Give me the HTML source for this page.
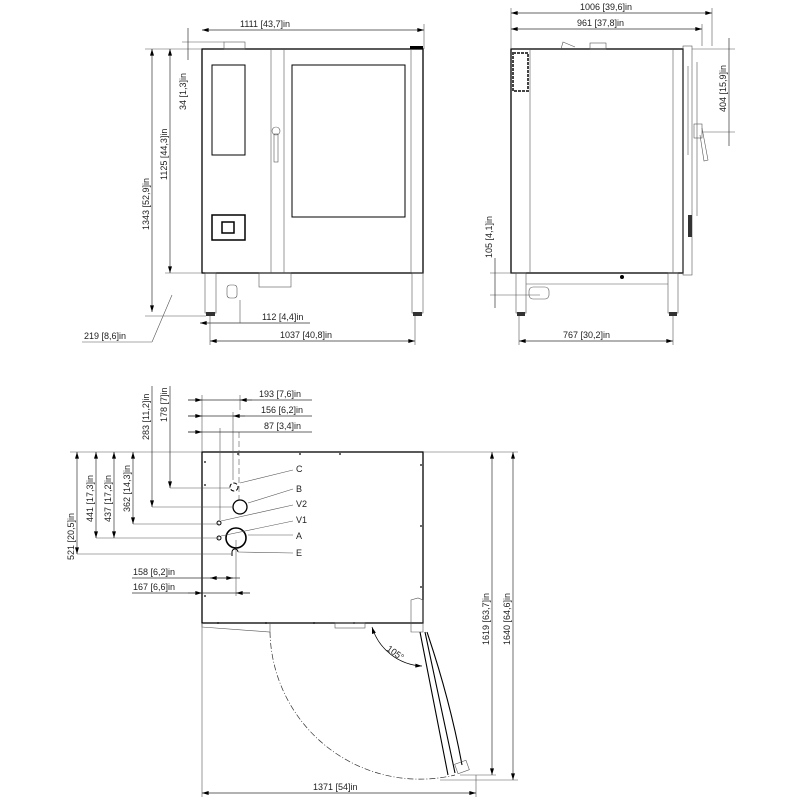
<!DOCTYPE html>
<html><head><meta charset="utf-8"><style>
html,body{margin:0;padding:0;background:#fff}
svg{display:block}
text{font-family:"Liberation Sans",sans-serif;font-size:9px;fill:#222}
.l{stroke:#000;fill:none;stroke-width:1.3}
.t{stroke:#555;fill:none;stroke-width:0.6}
.d{stroke:#333;fill:none;stroke-width:0.7}
</style></head><body>
<svg width="800" height="800" viewBox="0 0 800 800" xmlns="http://www.w3.org/2000/svg">
<defs>
<marker id="a" viewBox="0 0 10 6" refX="10" refY="3" markerWidth="10" markerHeight="4" orient="auto-start-reverse" markerUnits="userSpaceOnUse"><path d="M0,0L10,3L0,6z" fill="#000"/></marker>
</defs>

<!-- FRONT VIEW -->
<rect class="l" x="202" y="49" width="221" height="224"/>
<line class="t" x1="271" y1="49" x2="271" y2="273"/>
<line class="t" x1="284" y1="49" x2="284" y2="273"/>
<line class="t" x1="411" y1="49" x2="411" y2="273"/>
<rect class="l" x="212" y="65" width="33" height="90" style="stroke-width:1"/>
<rect class="l" x="292" y="65" width="113" height="152" style="stroke-width:1"/>
<rect class="l" x="212" y="215" width="33" height="25" style="stroke-width:1.5"/>
<rect x="222" y="222" width="12" height="11" fill="none" stroke="#000" stroke-width="1.5"/>
<circle cx="276" cy="131" r="4" class="t"/>
<rect x="274" y="134" width="4" height="28" class="t"/>
<rect x="224" y="42" width="21" height="7" class="t"/>
<rect x="410" y="46" width="13" height="3" fill="#000"/>
<rect class="t" x="205" y="273" width="11" height="40"/>
<rect class="t" x="412" y="273" width="11" height="40"/>
<rect x="206" y="312" width="9" height="4" fill="#333"/>
<rect x="413" y="312" width="9" height="4" fill="#333"/>
<rect class="t" x="259" y="273" width="32" height="14"/>
<rect class="t" x="227" y="285" width="10" height="13" rx="3"/>
<!-- front dims -->
<line class="d" x1="202" y1="30" x2="424" y2="30" marker-start="url(#a)" marker-end="url(#a)"/>
<text x="240" y="27">1111  [43,7]in</text>
<line class="t" x1="424" y1="24" x2="424" y2="49"/>
<line class="t" x1="145" y1="49" x2="202" y2="49"/>
<line class="t" x1="182" y1="42" x2="224" y2="42"/>
<line class="d" x1="152" y1="49" x2="152" y2="312" marker-start="url(#a)" marker-end="url(#a)"/>
<text transform="translate(149,230) rotate(-90)">1343  [52,9]in</text>
<line class="d" x1="170" y1="49" x2="170" y2="273" marker-start="url(#a)" marker-end="url(#a)"/>
<text transform="translate(167,180) rotate(-90)">1125  [44,3]in</text>
<line class="d" x1="188" y1="28" x2="188" y2="60"/>
<text transform="translate(186,110) rotate(-90)">34  [1,3]in</text>
<line class="t" x1="165" y1="273" x2="202" y2="273"/>
<line class="t" x1="145" y1="316" x2="206" y2="316"/>
<line class="d" x1="200" y1="323" x2="240" y2="323" marker-start="url(#a)"/>
<line class="t" x1="240" y1="300" x2="240" y2="323"/>
<line class="d" x1="240" y1="323" x2="310" y2="323"/>
<text x="262" y="320">112  [4,4]in</text>
<line class="d" x1="210" y1="341" x2="415" y2="341" marker-start="url(#a)" marker-end="url(#a)"/>
<line class="t" x1="210" y1="316" x2="210" y2="345"/>
<line class="t" x1="415" y1="316" x2="415" y2="345"/>
<text x="280" y="338">1037  [40,8]in</text>
<line class="t" x1="82" y1="342" x2="152" y2="342"/>
<line class="t" x1="152" y1="342" x2="172" y2="295"/>
<text x="84" y="339">219  [8,6]in</text>

<!-- SIDE VIEW -->
<rect class="l" x="511" y="49" width="172" height="224"/>
<line class="t" x1="530" y1="49" x2="530" y2="273"/>
<line class="t" x1="673" y1="49" x2="673" y2="273"/>
<rect class="t" x="683" y="46" width="9" height="229"/>
<line class="t" x1="697" y1="62" x2="697" y2="216"/>
<line class="t" x1="688" y1="66" x2="688" y2="155"/>
<rect x="513" y="53" width="15" height="38" fill="none" stroke="#444" stroke-width="2" stroke-dasharray="3,1"/>
<rect class="t" x="590" y="43" width="16" height="6"/>
<path class="t" d="M561 49 L563 42 L575 47"/>
<rect class="t" x="694" y="124" width="8" height="14"/>
<path class="t" d="M702 128 L708 160 L704 161 L700 135"/>
<rect x="688" y="215" width="4" height="22" fill="#333"/>
<rect class="t" x="516" y="273" width="10" height="40"/>
<rect class="t" x="668" y="273" width="10" height="40"/>
<rect x="517" y="312" width="8" height="4" fill="#333"/>
<rect x="669" y="312" width="8" height="4" fill="#333"/>
<line class="t" x1="526" y1="284" x2="668" y2="284"/>
<rect class="t" x="529" y="287" width="20" height="12" rx="4"/>
<circle cx="622" cy="277" r="2" fill="#000"/>
<line class="d" x1="511" y1="13" x2="712" y2="13" marker-start="url(#a)" marker-end="url(#a)"/>
<text x="580" y="10">1006  [39,6]in</text>
<line class="d" x1="511" y1="29" x2="702" y2="29" marker-start="url(#a)" marker-end="url(#a)"/>
<text x="577" y="26">961  [37,8]in</text>
<line class="t" x1="511" y1="8" x2="511" y2="49"/>
<line class="t" x1="712" y1="8" x2="712" y2="46"/>
<line class="t" x1="702" y1="24" x2="702" y2="46"/>
<line class="t" x1="692" y1="49" x2="735" y2="49"/>
<line class="t" x1="702" y1="132" x2="735" y2="132"/>
<line class="d" x1="729" y1="38" x2="729" y2="146"/>
<text transform="translate(726,112) rotate(-90)">404  [15,9]in</text>
<line class="t" x1="490" y1="273" x2="516" y2="273"/>
<line class="t" x1="490" y1="295" x2="540" y2="295"/>
<line class="d" x1="495" y1="258" x2="495" y2="308"/>
<text transform="translate(492,258) rotate(-90)">105  [4,1]in</text>
<line class="d" x1="519" y1="341" x2="673" y2="341" marker-start="url(#a)" marker-end="url(#a)"/>
<line class="t" x1="519" y1="316" x2="519" y2="345"/>
<line class="t" x1="673" y1="316" x2="673" y2="345"/>
<text x="563" y="338">767  [30,2]in</text>

<!-- TOP VIEW -->
<rect class="l" x="202" y="452" width="221" height="171"/>
<g fill="#000">
<circle cx="238" cy="454" r="0.9"/><circle cx="300" cy="454" r="0.9"/><circle cx="340" cy="454" r="0.9"/>
<circle cx="205" cy="462" r="0.9"/><circle cx="205" cy="485" r="0.9"/><circle cx="205" cy="596" r="0.9"/>
<circle cx="421" cy="465" r="0.9"/><circle cx="421" cy="526" r="0.9"/><circle cx="421" cy="587" r="0.9"/>
<circle cx="218" cy="623" r="0.9"/><circle cx="266" cy="623" r="0.9"/><circle cx="314" cy="623" r="0.9"/><circle cx="354" cy="623" r="0.9"/>
</g>
<path class="t" d="M202 623 L202 627 L270 632 L270 623"/>
<rect class="t" x="335" y="623" width="30" height="5"/>
<path class="t" d="M411 623 L411 600 L418 598 L423 600 L423 632 L411 632 Z"/>
<path d="M270 632 A150 150 0 0 0 455 775" fill="none" stroke="#333" stroke-width="0.7" stroke-dasharray="6,2,1,2"/>
<path d="M420 632 L448 775 M425 632 L455 773 M427 632 Q450 700 462 765" fill="none" stroke="#000" stroke-width="1.1"/>
<rect class="t" x="456" y="762" width="12" height="10" transform="rotate(-20 462 767)"/>
<path d="M372 627 A55 55 0 0 0 422 666" fill="none" stroke="#000" stroke-width="0.7" marker-start="url(#a)" marker-end="url(#a)"/>
<text transform="translate(386,650) rotate(35)">105°</text>
<!-- circles -->
<line x1="239" y1="432" x2="239" y2="500" stroke="#555" stroke-width="0.6" stroke-dasharray="6,3"/>
<line class="t" x1="236" y1="540" x2="236" y2="596"/>
<circle cx="234" cy="487" r="4" fill="none" stroke="#000" stroke-width="1" stroke-dasharray="4,2"/>
<circle cx="240" cy="507" r="7" fill="none" stroke="#000" stroke-width="1.3"/>
<circle cx="219" cy="523" r="2" fill="none" stroke="#000" stroke-width="1"/>
<circle cx="219" cy="538" r="2" fill="none" stroke="#000" stroke-width="1"/>
<circle cx="236" cy="538" r="10" fill="none" stroke="#000" stroke-width="1.6"/>
<path d="M232 556 L232 552 A3 3 0 0 1 238 552" fill="none" stroke="#000"/>
<g class="t">
<line x1="240" y1="483" x2="293" y2="470"/><line x1="248" y1="503" x2="293" y2="489"/>
<line x1="221" y1="521" x2="293" y2="505"/><line x1="221" y1="536" x2="293" y2="521"/>
<line x1="248" y1="535" x2="293" y2="535"/><line x1="238" y1="552" x2="293" y2="553"/>
</g>
<text x="296" y="472">C</text><text x="296" y="492">B</text><text x="296" y="507">V2</text>
<text x="296" y="523">V1</text><text x="296" y="539">A</text><text x="296" y="556">E</text>
<!-- left dims -->
<g class="t">
<line x1="70" y1="452" x2="202" y2="452"/>
<line x1="77" y1="554" x2="232" y2="554"/>
<line x1="96" y1="538" x2="219" y2="538"/>
<line x1="133" y1="524" x2="219" y2="524"/>
<line x1="152" y1="507" x2="232" y2="507"/>
<line x1="170" y1="488" x2="230" y2="488"/>
<line x1="202" y1="395" x2="202" y2="452"/>
<line x1="220" y1="428" x2="220" y2="520"/>
<line x1="233" y1="412" x2="233" y2="480"/>
<line x1="240" y1="395" x2="240" y2="410"/>
</g>
<line class="d" x1="77" y1="452" x2="77" y2="554" marker-start="url(#a)" marker-end="url(#a)"/>
<text transform="translate(74,560) rotate(-90)">521  [20,5]in</text>
<line class="d" x1="96" y1="452" x2="96" y2="538" marker-start="url(#a)" marker-end="url(#a)"/>
<text transform="translate(93,522) rotate(-90)">441  [17,3]in</text>
<line class="d" x1="114" y1="452" x2="114" y2="538" marker-start="url(#a)" marker-end="url(#a)"/>
<text transform="translate(111,522) rotate(-90)">437  [17,2]in</text>
<line class="d" x1="133" y1="452" x2="133" y2="524" marker-start="url(#a)" marker-end="url(#a)"/>
<text transform="translate(130,512) rotate(-90)">362  [14,3]in</text>
<line class="d" x1="152" y1="386" x2="152" y2="507" marker-end="url(#a)"/>
<text transform="translate(149,440) rotate(-90)">283  [11,2]in</text>
<line class="d" x1="170" y1="386" x2="170" y2="488" marker-end="url(#a)"/>
<text transform="translate(167,422) rotate(-90)">178  [7]in</text>
<line class="d" x1="188" y1="400" x2="312" y2="400"/>
<line class="d" x1="188" y1="400" x2="202" y2="400" marker-end="url(#a)"/>
<line class="d" x1="252" y1="400" x2="240" y2="400" marker-end="url(#a)"/>
<text x="259" y="397">193  [7,6]in</text>
<line class="d" x1="188" y1="416" x2="312" y2="416"/>
<line class="d" x1="188" y1="416" x2="202" y2="416" marker-end="url(#a)"/>
<line class="d" x1="245" y1="416" x2="233" y2="416" marker-end="url(#a)"/>
<text x="261" y="413">156  [6,2]in</text>
<line class="d" x1="188" y1="432" x2="312" y2="432"/>
<line class="d" x1="188" y1="432" x2="202" y2="432" marker-end="url(#a)"/>
<text x="264" y="429">87  [3,4]in</text>
<line class="d" x1="132" y1="578" x2="240" y2="578"/>
<line class="d" x1="210" y1="578" x2="222" y2="578" marker-start="url(#a)"/>
<line class="d" x1="222" y1="578" x2="233" y2="578" marker-end="url(#a)"/>
<text x="133" y="575">158  [6,2]in</text>
<line class="d" x1="132" y1="593" x2="250" y2="593"/>
<line class="d" x1="188" y1="593" x2="202" y2="593" marker-end="url(#a)"/>
<line class="d" x1="250" y1="593" x2="236" y2="593" marker-end="url(#a)"/>
<text x="133" y="590">167  [6,6]in</text>
<!-- right dims -->
<line class="t" x1="423" y1="452" x2="518" y2="452"/>
<line class="t" x1="460" y1="775" x2="496" y2="775"/>
<line class="t" x1="440" y1="780" x2="518" y2="780"/>
<line class="d" x1="492" y1="452" x2="492" y2="775" marker-start="url(#a)" marker-end="url(#a)"/>
<text transform="translate(489,645) rotate(-90)">1619  [63,7]in</text>
<line class="d" x1="513" y1="452" x2="513" y2="780" marker-start="url(#a)" marker-end="url(#a)"/>
<text transform="translate(510,645) rotate(-90)">1640  [64,6]in</text>
<line class="t" x1="202" y1="623" x2="202" y2="797"/>
<line class="t" x1="476" y1="775" x2="476" y2="797"/>
<line class="d" x1="202" y1="793" x2="476" y2="793" marker-start="url(#a)" marker-end="url(#a)"/>
<text x="313" y="790">1371  [54]in</text>
</svg>
</body></html>
